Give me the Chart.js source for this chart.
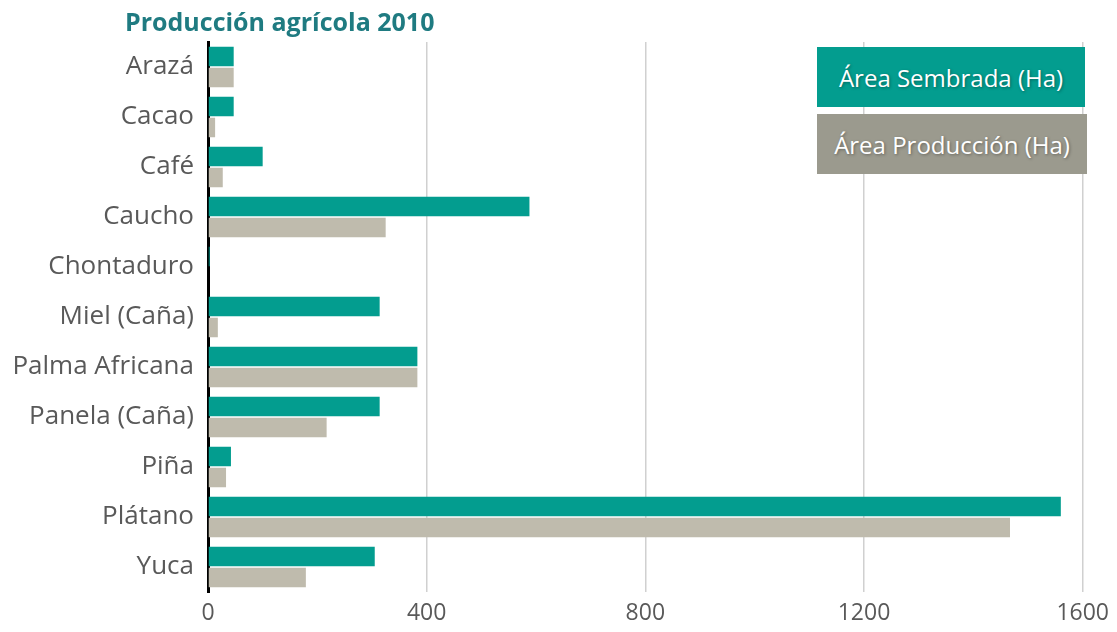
<!DOCTYPE html>
<html>
<head>
<meta charset="utf-8">
<script src="https://cdn.jsdelivr.net/npm/chart.js@4/dist/chart.umd.min.js"></script>
<style>
  html, body { margin: 0; padding: 0; background: #ffffff; }
  #wrap { position: relative; width: 1117px; height: 632px; }
  #title {
    position: absolute; left: 125px; top: 4px;
    font: bold 25px 'Open Sans', sans-serif; color: #1f7b81;
  }
  .leg {
    position: absolute; left: 817px; height: 60px;
    display: flex; align-items: center; justify-content: center;
    font: 24px 'Open Sans', sans-serif; color: #ffffff;
    text-shadow: 1px 1px 3px rgba(0,0,0,0.35);
  }
</style>
</head>
<body>
<div id="wrap">
  <canvas id="chart" width="1117" height="632"></canvas>
  <div id="title">Producción agrícola 2010</div>
  <div id="legend"></div>
</div>
<script>
/* ─────────────────────────────────────────
   DATA
───────────────────────────────────────── */
const categories = ['Arazá','Cacao','Café','Caucho','Chontaduro','Miel (Caña)',
                    'Palma Africana','Panela (Caña)','Piña','Plátano','Yuca'];
const sembrada   = [47, 47, 100, 588, 3, 314, 383, 314, 42, 1560, 305];
const produccion = [47, 13, 27, 325, 0, 18, 383, 217, 33, 1467, 179];
const seriesLabels = ['Área Sembrada (Ha)', 'Área Producción (Ha)'];
const xTicks = [0, 400, 800, 1200, 1600];

const TEAL = '#039d8f';
const SAND = '#bfbbad';
const legendColors = [TEAL, '#9b9a8e'];

Chart.defaults.font.family = "'Open Sans', sans-serif";
Chart.defaults.color = '#595959';

/* ─────────────────────────────────────────
   CHART
───────────────────────────────────────── */
const chart = new Chart(document.getElementById('chart'), {
  type: 'bar',
  data: {
    labels: categories,
    datasets: [
      { label: seriesLabels[0], data: sembrada,   backgroundColor: TEAL },
      { label: seriesLabels[1], data: produccion, backgroundColor: SAND },
    ]
  },
  options: {
    indexAxis: 'y',
    responsive: false,
    animation: false,
    categoryPercentage: 0.84,
    barPercentage: 0.93,
    layout: { padding: { left: 0, right: 31, top: 42, bottom: 0 } },
    plugins: {
      legend: { display: false },
      tooltip: { enabled: false }
    },
    scales: {
      x: {
        min: 0, max: 1600,
        afterBuildTicks: s => { s.ticks = xTicks.map(v => ({ value: v })); },
        afterFit: s => { s.height = 40; },
        grid: {
          drawTicks: false,
          lineWidth: 1.5,
          color: c => (c.tick && c.tick.value === 0) ? 'rgba(0,0,0,0)' : '#d0d0d0'
        },
        border: { display: false },
        ticks: { padding: 8, font: { size: 23 }, color: '#595959', callback: v => String(v) }
      },
      y: {
        afterFit: s => { s.width = 208; },
        grid: { display: false, drawTicks: false },
        border: { display: true, color: '#000000', width: 3 },
        ticks: { padding: 14, font: { size: 26 }, color: '#595959' }
      }
    }
  }
});

/* ─────────────────────────────────────────
   LEGEND BOXES
───────────────────────────────────────── */
const legend = document.getElementById('legend');
chart.data.datasets.forEach((ds, i) => {
  const el = document.createElement('div');
  el.className = 'leg';
  el.style.top = (47 + i * 67) + 'px';
  el.style.width = (268 + i * 2) + 'px';
  el.style.background = legendColors[i];
  el.textContent = ds.label;
  legend.appendChild(el);
});
</script>
</body>
</html>
